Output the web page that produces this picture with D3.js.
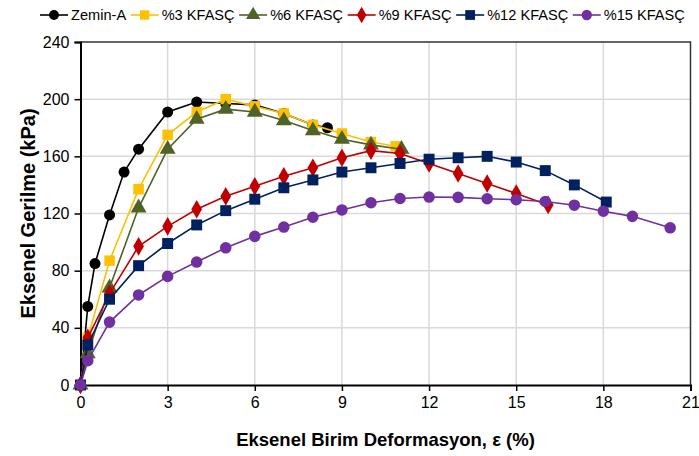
<!DOCTYPE html>
<html><head><meta charset="utf-8">
<script src="https://cdn.jsdelivr.net/npm/d3@7"></script>
<style>body{margin:0;background:#fff}svg{display:block}text{font-family:"Liberation Sans",Arial,sans-serif}</style>
</head><body><svg id="c" width="699" height="456"></svg>
<script>
const seriesNames = ["Zemin-A","%3 KFASÇ","%6 KFASÇ","%9 KFASÇ","%12 KFASÇ","%15 KFASÇ"];
const xZemin = [0,0.25,0.5,1,1.5,2,3,4,5,6,7,8,8.5];
const yZemin = [0,55,85,119,149,165,191,198,197,196,190,182,180];
const x3 = [0,0.25,1,2,3,4,5,6,7,8,9,10,10.85];
const y3 = [0,33,87,137,175,191,200,195,190,182,176,170,167];
const x6 = [0,0.25,1,2,3,4,5,6,7,8,9,10,11.05];
const y6 = [0,22,68,124,165,186,193,191,185,178,172,168,165];
const x9 = [0,0.25,1,2,3,4,5,6,7,8,9,10,11,12,13,14,15,16.1];
const y9 = [0,33,64,97,111,123,132,139,146,152,159,164,162,155,148,141,134,126];
const x12 = [0,0.25,1,2,3,4,5,6,7,8,9,10,11,12,13,14,15,16,17,18.1];
const y12 = [0,28,60,83.5,99,112,122,130,138,143.5,149,152,155,158,159,160,156,150,140,128];
const x15 = [0,0.25,1,2,3,4,5,6,7,8,9,10,11,12,13,14,15,16,17,18,19,20.3];
const y15 = [0,17,44,63,76,86,96,104,110.5,117.4,122.5,127.5,130.5,131.5,131.3,130.3,129.6,128.4,125.8,121.6,118,110];
const xTicks = [0,3,6,9,12,15,18,21];
const yTicks = [0,40,80,120,160,200,240];
const xTitle = "Eksenel Birim Deformasyon, ε (%)";
const yTitle = "Eksenel Gerilme (kPa)";

const colors = ["#000000","#FFC000","#4F6228","#C00000","#002060","#7030A0"];
const shapes = [d3.symbolCircle,d3.symbolSquare,d3.symbolTriangle,d3.symbolDiamond,d3.symbolSquare,d3.symbolCircle];
const sizes = [95,110,110,100,120,105];
const xs=[xZemin,x3,x6,x9,x12,x15], ys=[yZemin,y3,y6,y9,y12,y15];

const svg=d3.select("#c");
const L=80.5,R=690.5,T=42,B=385;
const x=d3.scaleLinear().domain([0,21]).range([L,R]);
const y=d3.scaleLinear().domain([0,240]).range([B,T]);

// grid
svg.append("g").selectAll("line").data(xTicks.filter(t=>t>0&&t<21)).join("line")
 .attr("x1",d=>x(d)).attr("x2",d=>x(d)).attr("y1",T).attr("y2",B)
 .attr("stroke","#d9d9d9").attr("stroke-width",1.5);
svg.append("g").selectAll("line").data(yTicks.filter(t=>t>0&&t<240)).join("line")
 .attr("y1",d=>y(d)).attr("y2",d=>y(d)).attr("x1",L).attr("x2",R)
 .attr("stroke","#d9d9d9").attr("stroke-width",1.5);
// frame top/right
svg.append("path").attr("d",`M${L},${T}H${R}V${B}`).attr("fill","none").attr("stroke","#333").attr("stroke-width",1.5);

// axes
const xAxis=svg.append("g").attr("transform",`translate(0,${B})`)
 .call(d3.axisBottom(x).tickValues(xTicks).tickSize(6).tickPadding(6).tickFormat(d3.format("d")));
const yAxis=svg.append("g").attr("transform",`translate(${L},0)`)
 .call(d3.axisLeft(y).tickValues(yTicks).tickSize(6).tickPadding(5).tickFormat(d3.format("d")));
[xAxis,yAxis].forEach(g=>{
 g.select(".domain").attr("stroke","#000").attr("stroke-width",2);
 g.selectAll(".tick line").attr("stroke","#000").attr("stroke-width",1.5);
 g.selectAll(".tick text").attr("font-size",16).attr("fill","#000").attr("font-family","'Liberation Sans',Arial,sans-serif");
});

// series
const line=d3.line().x(d=>x(d[0])).y(d=>y(d[1]));
seriesNames.forEach((n,i)=>{
 const pts=xs[i].map((v,j)=>[v,ys[i][j]]);
 const g=svg.append("g");
 g.append("path").datum(pts).attr("d",line).attr("fill","none").attr("stroke",colors[i]).attr("stroke-width",1.6);
 g.selectAll("path.m").data(pts).join("path").attr("class","m")
  .attr("transform",d=>`translate(${x(d[0])},${y(d[1])})`)
  .attr("d",d3.symbol().type(shapes[i]).size(sizes[i])).attr("fill",colors[i]);
});

// legend
const lg=svg.append("g");
let cx=40; const ly=15;
seriesNames.forEach((n,i)=>{
 lg.append("line").attr("x1",cx).attr("x2",cx+28).attr("y1",ly).attr("y2",ly).attr("stroke",colors[i]).attr("stroke-width",1.6);
 lg.append("path").attr("transform",`translate(${cx+14},${ly})`).attr("d",d3.symbol().type(shapes[i]).size(sizes[i]*0.8)).attr("fill",colors[i]);
 const t=lg.append("text").attr("x",cx+31).attr("y",ly).attr("dy","0.35em").attr("font-size",14.6).text(n);
 cx+=31+t.node().getComputedTextLength()+4.5;
});

// titles
svg.append("text").attr("x",(L+R)/2).attr("y",446).attr("text-anchor","middle")
 .attr("font-size",18.5).attr("font-weight","bold").text(xTitle);
svg.append("text").attr("transform",`translate(35,${(T+B)/2}) rotate(-90)`).attr("text-anchor","middle")
 .attr("font-size",20).attr("font-weight","bold").text(yTitle);
</script></body></html>
